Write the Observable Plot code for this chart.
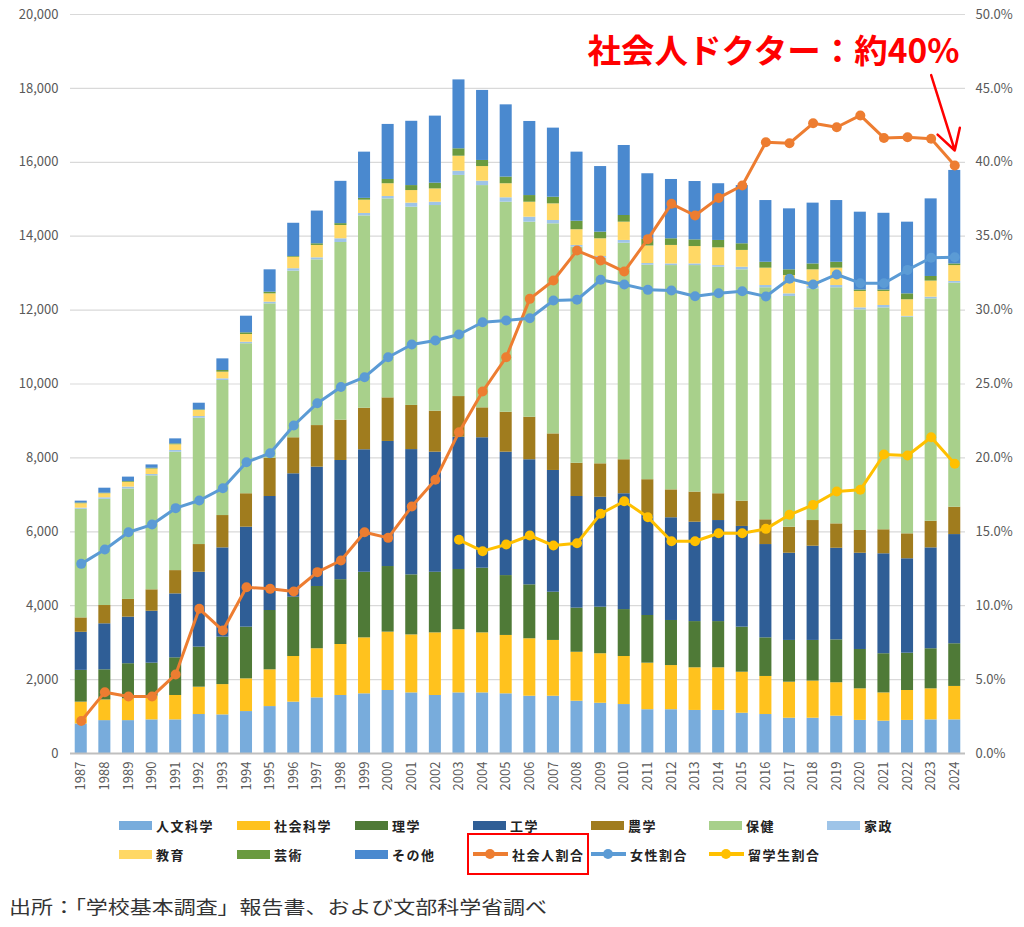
<!DOCTYPE html>
<html>
<head>
<meta charset="utf-8">
<script src="https://cdn.jsdelivr.net/npm/d3@7"></script>
<script src="https://cdn.jsdelivr.net/npm/@observablehq/plot@0.6"></script>
<style>
  body { margin: 0; background: #fff; font-family: "Noto Sans CJK JP", "Noto Sans", sans-serif; }
  #wrap { position: relative; width: 1024px; height: 927px; overflow: hidden; }
  #chart { position: absolute; left: 0; top: 0; }
  #legend { position: absolute; left: 119px; top: 814px; display: grid; grid-template-columns: repeat(7, 118px); row-gap: 7px; font-size: 13px; font-weight: 700; color: #222; letter-spacing: 1.5px; }
  .item { display: flex; align-items: center; height: 22px; white-space: nowrap; justify-self: start; position: relative; }
  .sw { width: 33px; height: 9px; margin-right: 4px; flex: none; }
  .ln { position: relative; width: 35px; height: 10px; margin-right: 4px; flex: none; }
  .ln .bar { position: absolute; left: 0; right: 0; top: 3px; height: 4px; }
  .ln .pt { position: absolute; left: 12px; top: 0; width: 10px; height: 10px; border-radius: 50%; }
  .box { position: absolute; left: -6px; right: -4px; top: -10px; bottom: -10px; border: 2.5px solid #ff0000; }
  #caption { position: absolute; left: 9px; top: 893px; font-size: 18px; color: #333; transform: scaleX(1.22); transform-origin: left top; white-space: nowrap; }
</style>
</head>
<body>
<div id="wrap">
  <div id="chart"></div>
  <div id="legend"></div>
  <div id="caption">出所：「学校基本調査」報告書、および文部科学省調べ</div>
</div>
<script>
// ---- data ----
const years = [1987,1988,1989,1990,1991,1992,1993,1994,1995,1996,1997,1998,1999,2000,2001,2002,2003,2004,2005,2006,2007,2008,2009,2010,2011,2012,2013,2014,2015,2016,2017,2018,2019,2020,2021,2022,2023,2024];

const categories = ["人文科学","社会科学","理学","工学","農学","保健","家政","教育","芸術","その他"];
const catColors = ["#78acdc","#ffc21e","#4f7a37","#2f5e96","#a07c1e","#a8d08b","#9ec4e8","#ffd865","#6a9a3f","#4a89cf"];

const humanities  = [800,890,890,910,910,1055,1045,1135,1270,1390,1505,1570,1615,1705,1640,1570,1640,1640,1615,1550,1550,1415,1360,1325,1185,1185,1165,1165,1090,1055,955,955,1010,895,875,895,910,910];
const social      = [590,560,590,640,660,740,820,885,995,1235,1330,1380,1515,1580,1570,1695,1710,1625,1580,1555,1510,1325,1340,1300,1260,1195,1155,1155,1110,1030,975,1005,905,855,765,810,840,905];
const science     = [860,815,950,895,1020,1085,1285,1400,1605,1605,1685,1755,1775,1775,1625,1640,1630,1750,1620,1460,1305,1195,1260,1270,1290,1220,1250,1250,1220,1045,1130,1100,1160,1065,1060,1010,1085,1155];
const engineering = [1030,1245,1260,1405,1730,2025,2415,2705,3085,3340,3230,3225,3315,3385,3390,3250,3580,3530,3340,3385,3295,3020,2975,3135,2705,2780,2690,2735,2725,2525,2360,2550,2480,2605,2705,2555,2730,2955];
const agriculture = [390,495,480,580,630,750,875,905,1035,975,1125,1090,1125,1180,1195,1110,1100,810,1080,1150,990,900,905,920,970,755,815,725,685,670,705,695,660,615,650,675,720,740];
const health      = [2940,2875,2990,3085,3205,3420,3655,4060,4180,4510,4485,4810,5205,5385,5365,5565,5985,6015,5685,5280,5685,5850,5565,5860,5805,6070,6130,6130,6260,6280,6245,6270,6390,5970,6005,5865,6020,6065];
const homeEc      = [30,40,50,35,45,45,45,40,45,65,55,100,65,65,110,90,115,120,120,135,90,45,45,75,45,45,45,45,70,60,70,65,60,55,65,20,45,45];
const education   = [120,110,130,150,155,165,180,210,225,310,335,360,360,345,340,360,405,395,380,405,450,425,480,495,475,500,470,480,455,470,495,450,470,445,380,450,435,430];
const arts        = [20,15,20,20,25,15,45,45,45,20,45,50,50,115,135,155,200,165,180,180,180,230,180,180,180,180,180,200,180,160,155,160,160,40,40,160,125,45];
const other       = [50,135,120,90,135,180,315,450,605,900,885,1145,1250,1490,1740,1815,1865,1895,1955,2005,1870,1870,1775,1895,1775,1605,1580,1535,1575,1670,1650,1645,1670,2105,2075,1940,2100,2530];

// ratios (%)
const workingRatio = [2.2,4.15,3.86,3.86,5.35,9.79,8.32,11.25,11.14,10.96,12.27,13.06,14.97,14.59,16.71,18.52,21.74,24.49,26.81,30.76,32.0,34.03,33.36,32.61,34.8,37.19,36.4,37.59,38.43,41.36,41.29,42.64,42.37,43.17,41.65,41.7,41.59,39.78];
const womenRatio   = [12.83,13.8,14.97,15.49,16.6,17.12,17.95,19.71,20.32,22.19,23.7,24.8,25.46,26.81,27.67,27.94,28.35,29.18,29.3,29.45,30.65,30.7,32.05,31.73,31.37,31.33,30.94,31.14,31.28,30.92,32.12,31.73,32.41,31.82,31.82,32.72,33.54,33.58];
const intlYears    = [2003,2004,2005,2006,2007,2008,2009,2010,2011,2012,2013,2014,2015,2016,2017,2018,2019,2020,2021,2022,2023,2024];
const intlRatio    = [14.46,13.69,14.14,14.75,14.07,14.23,16.22,17.07,15.99,14.36,14.36,14.9,14.9,15.2,16.15,16.82,17.73,17.84,20.23,20.16,21.4,19.6];

const lineNames  = ["社会人割合","女性割合","留学生割合"];
const lineColors = ["#ed7d31","#5b9bd5","#ffc000"];

const leftTicks = d3.range(0, 20001, 2000);
const pctToY = 20000 / 50; // right axis 0–50% mapped onto 0–20,000

const annotationText = "社会人ドクター：約40%";
const arrowFrom = {year: "2023", pct: 45.9};
const arrowTo   = {year: "2024", pct: 40.8};

// ---- build tables ----
const series = [humanities, social, science, engineering, agriculture, health, homeEc, education, arts, other];
const barRows = years.flatMap((y, i) => categories.map((c, j) => ({year: String(y), cat: c, value: series[j][i]})));
const mk = (ys, vals, name) => ys.map((y, i) => ({year: String(y), v: vals[i] * pctToY, name}));
const working = mk(years, workingRatio, lineNames[0]);
const women = mk(years, womenRatio, lineNames[1]);
const intl = mk(intlYears, intlRatio, lineNames[2]);

const font = '"Noto Sans CJK JP", "Noto Sans", sans-serif';

const chart = Plot.plot({
  width: 1024,
  height: 805,
  marginTop: 14,
  marginBottom: 52,
  marginLeft: 70,
  marginRight: 59,
  style: {fontFamily: font, fontSize: "13px", color: "#595959", background: "transparent"},
  x: {type: "band", domain: years.map(String), paddingInner: 0.49, paddingOuter: 0.2, round: false, label: null},
  y: {domain: [0, 20000], label: null},
  color: {domain: categories, range: catColors},
  marks: [
    Plot.gridY(leftTicks, {stroke: "#d9d9d9", strokeOpacity: 1, strokeWidth: 1.2}),
    Plot.barY(barRows, {x: "year", y: "value", fill: "cat"}),
    Plot.ruleY([0], {stroke: "#bfbfbf", strokeWidth: 2}),
    Plot.axisY({anchor: "left", ticks: leftTicks, tickFormat: d3.format(","), tickSize: 0, tickPadding: 12, label: null, fill: "#595959"}),
    Plot.axisY({anchor: "right", ticks: leftTicks, tickFormat: d => (d / pctToY).toFixed(1) + "%", tickSize: 0, tickPadding: 10, label: null, fill: "#595959"}),
    Plot.axisX({tickRotate: -90, tickSize: 0, tickPadding: 8, label: null, fill: "#595959"}),
    Plot.line(working, {x: "year", y: "v", stroke: lineColors[0], strokeWidth: 3}),
    Plot.dot(working, {x: "year", y: "v", r: 5, fill: lineColors[0]}),
    Plot.line(women, {x: "year", y: "v", stroke: lineColors[1], strokeWidth: 3}),
    Plot.dot(women, {x: "year", y: "v", r: 5, fill: lineColors[1]}),
    Plot.line(intl, {x: "year", y: "v", stroke: lineColors[2], strokeWidth: 3}),
    Plot.dot(intl, {x: "year", y: "v", r: 5, fill: lineColors[2]}),
    Plot.text([annotationText], {frameAnchor: "top-right", text: d => d, dx: -6, dy: 38, lineAnchor: "middle", fill: "#ff0000", fontSize: 33.5, fontWeight: "bold", textAnchor: "end"}),
    Plot.arrow([{}], {x1: () => arrowFrom.year, y1: () => arrowFrom.pct * pctToY, x2: () => arrowTo.year, y2: () => arrowTo.pct * pctToY, stroke: "#ff0000", strokeWidth: 2.5, headLength: 14})
  ]
});
document.getElementById("chart").appendChild(chart);

// ---- legend ----
const legend = document.getElementById("legend");
categories.forEach((c, j) => {
  const it = document.createElement("div");
  it.className = "item";
  it.innerHTML = `<span class="sw" style="background:${catColors[j]}"></span><span>${c}</span>`;
  legend.appendChild(it);
});
lineNames.forEach((n, j) => {
  const it = document.createElement("div");
  it.className = "item";
  it.innerHTML = (j === 0 ? `<span class="box"></span>` : "") +
    `<span class="ln"><span class="bar" style="background:${lineColors[j]}"></span><span class="pt" style="background:${lineColors[j]}"></span></span><span>${n}</span>`;
  legend.appendChild(it);
});
</script>
</body>
</html>
